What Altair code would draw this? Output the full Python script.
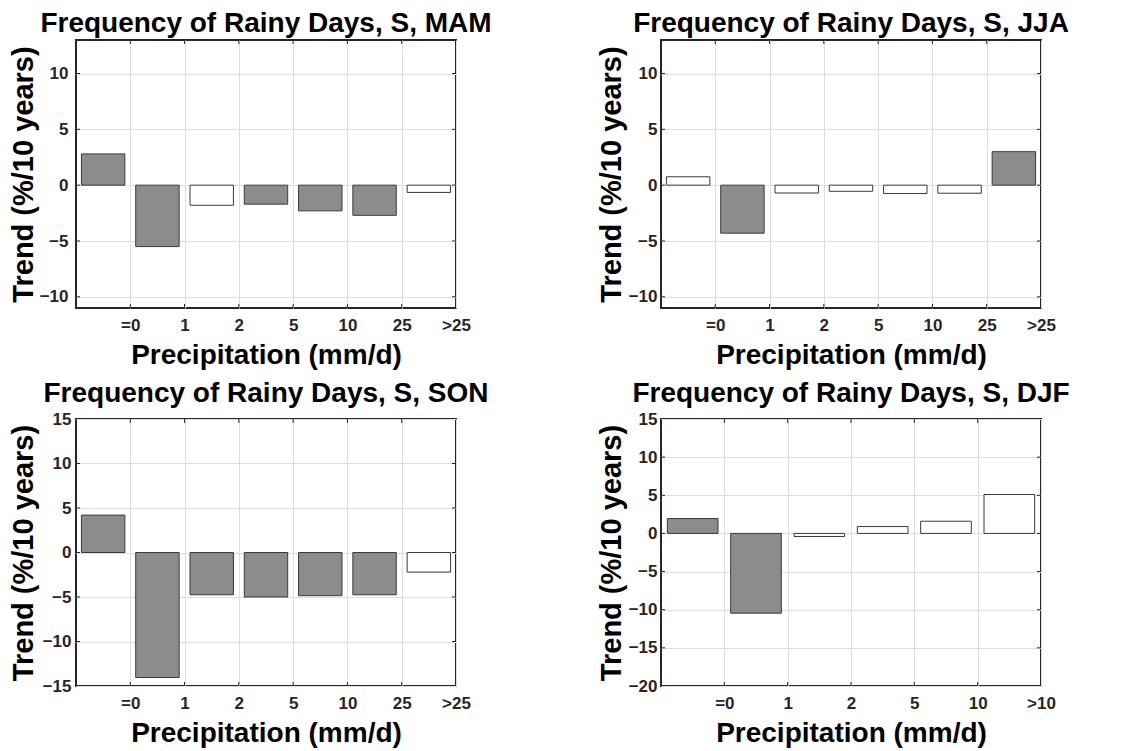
import json
import altair as alt
import pandas as pd

FONT = "Liberation Sans"

# ---- data ----
labels7 = ["=0", "1", "2", "5", "10", "25", ">25"]
labels6 = ["=0", "1", "2", "5", "10", ">10"]

mam_trend = [2.8, -5.5, -1.8, -1.7, -2.3, -2.7, -0.65]
mam_sig = [1, 1, 0, 1, 1, 1, 0]

jja_trend = [0.75, -4.3, -0.7, -0.55, -0.75, -0.72, 3.0]
jja_sig = [0, 1, 0, 0, 0, 0, 1]

son_trend = [4.2, -14.05, -4.75, -5.0, -4.85, -4.75, -2.2]
son_sig = [1, 1, 1, 1, 1, 1, 0]

djf_trend = [1.95, -10.45, -0.4, 0.9, 1.6, 5.1]
djf_sig = [1, 1, 0, 0, 0, 0]

W = 380
TICK = 4
DARK = "#262626"
YLABEL = "datum.value < 0 ? '\u2212' + format(-datum.value, 'd') : format(datum.value, 'd')"


def panel(title, trend, sig, labels, ydom, yticks, lab_pad, title_pad, h):
    n = len(trend)
    df = pd.DataFrame({
        "start": [i + 0.1 for i in range(n)],
        "end": [i + 0.9 for i in range(n)],
        "trend": trend,
        "sig": ["yes" if s else "no" for s in sig],
        "zero": [0] * n,
    })
    xscale = alt.Scale(domain=[0, n], nice=False, zero=False)
    yscale = alt.Scale(domain=ydom, nice=False, zero=False)
    label_expr = json.dumps(labels) + "[datum.value - 1]"

    xaxis = alt.Axis(values=list(range(1, n + 1)), labelExpr=label_expr,
                     grid=True, gridColor="#dedede", ticks=False, domain=False,
                     labelFont=FONT, labelFontSize=17, labelFontWeight="bold",
                     labelColor=DARK, labelPadding=9, labelFlush=False,
                     title="Precipitation (mm/d)", titleFont=FONT,
                     titleFontSize=28, titleFontWeight="bold",
                     titleColor="#000000", titlePadding=8)
    yaxis = alt.Axis(values=yticks, labelExpr=YLABEL, grid=True, gridColor="#dedede",
                     ticks=False, domain=False,
                     labelFont=FONT, labelFontSize=17, labelFontWeight="bold",
                     labelColor=DARK, labelPadding=lab_pad, labelFlush=False,
                     title="Trend (%/10 years)", titleFont=FONT,
                     titleFontSize=29, titleFontWeight="bold",
                     titleColor="#000000", titlePadding=title_pad)

    bars = alt.Chart(df).mark_rect(stroke="#3a3a3a", strokeWidth=1).encode(
        x=alt.X("start:Q", scale=xscale, axis=xaxis),
        x2="end:Q",
        y=alt.Y("trend:Q", scale=yscale, axis=yaxis),
        y2="zero:Q",
        color=alt.Color("sig:N",
                        scale=alt.Scale(domain=["yes", "no"], range=["#8c8c8c", "#ffffff"]),
                        legend=None),
    )

    xt = pd.DataFrame({"t": list(range(1, n))})
    yt = pd.DataFrame({"t": [v for v in yticks if ydom[0] < v < ydom[1]]})
    rule = dict(color=DARK, strokeWidth=1)
    bottom = alt.Chart(xt).mark_rule(**rule).encode(
        x=alt.X("t:Q", scale=xscale, axis=xaxis), y=alt.value(h), y2=alt.value(h - TICK))
    top = alt.Chart(xt).mark_rule(**rule).encode(
        x=alt.X("t:Q", scale=xscale, axis=xaxis), y=alt.value(0), y2=alt.value(TICK))
    left = alt.Chart(yt).mark_rule(**rule).encode(
        y=alt.Y("t:Q", scale=yscale, axis=yaxis), x=alt.value(0), x2=alt.value(TICK))
    right = alt.Chart(yt).mark_rule(**rule).encode(
        y=alt.Y("t:Q", scale=yscale, axis=yaxis), x=alt.value(W), x2=alt.value(W - TICK))

    return alt.layer(bars, bottom, top, left, right).properties(
        width=W, height=h,
        title=alt.TitleParams(title, font=FONT, fontSize=28, fontWeight="bold",
                              color="#000000", anchor="middle", offset=2),
    )


p1 = panel("Frequency of Rainy Days, S, MAM", mam_trend, mam_sig, labels7,
           [-11, 13], [-10, -5, 0, 5, 10], 8, 1, 268)
p2 = panel("Frequency of Rainy Days, S, JJA", jja_trend, jja_sig, labels7,
           [-11, 13], [-10, -5, 0, 5, 10], 4, 2, 268)
p3 = panel("Frequency of Rainy Days, S, SON", son_trend, son_sig, labels7,
           [-15, 15], [-15, -10, -5, 0, 5, 10, 15], 5, 4, 267)
p4 = panel("Frequency of Rainy Days, S, DJF", djf_trend, djf_sig, labels6,
           [-20, 15], [-20, -15, -10, -5, 0, 5, 10, 15], 4, 2, 267)

chart = alt.concat(
    p1, p2, p3, p4, columns=2,
    spacing=alt.RowColnumber(row=111, column=205),
    bounds="flush",
).properties(
    padding={"left": 0, "top": 0, "right": 5, "bottom": 0}
).configure(font=FONT).configure_view(stroke=DARK, strokeWidth=2)

chart.save("out.html", embed_options={"renderer": "svg", "actions": False})
